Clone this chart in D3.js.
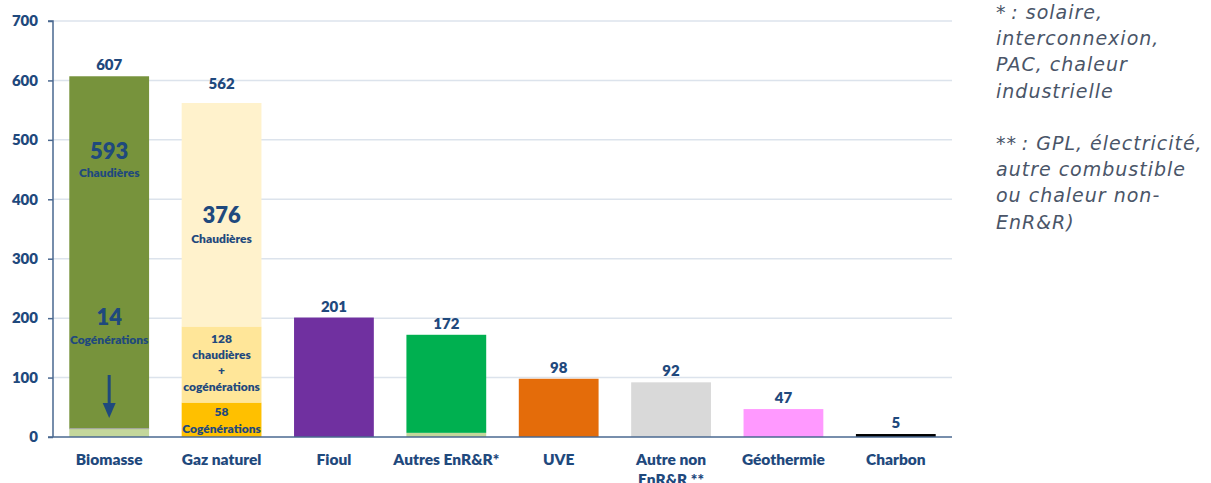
<!DOCTYPE html>
<html><head><meta charset="utf-8">
<script src="https://cdn.jsdelivr.net/npm/d3@7/dist/d3.min.js"></script>
<style>
body{margin:0;background:#fff;}
svg{display:block;}
</style></head>
<body><svg id="chart" width="1211" height="483"></svg>
<script>
const categories = ["Biomasse","Gaz naturel","Fioul","Autres EnR&R*","UVE","Autre non EnR&R **","Géothermie","Charbon"];
const totals = [607,562,201,172,98,92,47,5];
// stacked segments (bottom to top) per category
const biomasseSegments = [14,593];
const gazSegments = [58,128,376];
const autresSegments = [7,165];
const yTicks = [0,100,200,300,400,500,600,700];
const footnotes = ["*\u2009: solaire,","interconnexion,","PAC, chaleur","industrielle","","**\u2009: GPL, électricité,","autre combustible","ou chaleur non-","EnR&R)"];

const segColors = {
  "Biomasse":["#C4D79B","#77933C"],
  "Gaz naturel":["#FFC000","#FFE699","#FFF2CC"],
  "Autres EnR&R*":["#C4D79B","#00B050"]
};
const singleColors = {"Fioul":"#7030A0","UVE":"#E46C0A","Autre non EnR&R **":"#D9D9D9","Géothermie":"#FF99FF","Charbon":"#000000"};
const segValues = {"Biomasse":biomasseSegments,"Gaz naturel":gazSegments,"Autres EnR&R*":autresSegments};

const svg = d3.select("#chart");
const mLeft=53,mRight=952,mTop=21,mBottom=437;
const x = d3.scaleBand().domain(categories).range([mLeft,mRight]).paddingInner(0.29).paddingOuter(0.145);
const y = d3.scaleLinear().domain([0,700]).range([mBottom,mTop]);
const txt="#1F497D", font="Lato, 'Open Sans', sans-serif", fw=800;

// gridlines
svg.append("g").selectAll("line").data(yTicks.filter(d=>d>0)).join("line")
  .attr("x1",mLeft).attr("x2",mRight).attr("y1",d=>y(d)).attr("y2",d=>y(d))
  .attr("stroke","#DCE3EC").attr("stroke-width",1.5);

// bars
categories.forEach((c,i)=>{
  const segs = segValues[c] || [totals[i]];
  const cols = segColors[c] || [singleColors[c]];
  let acc=0;
  segs.forEach((v,j)=>{
    svg.append("rect").attr("x",x(c)).attr("width",x.bandwidth())
      .attr("y",y(acc+v)).attr("height",y(acc)-y(acc+v)).attr("fill",cols[j]);
    acc+=v;
  });
});
// thin separator in biomasse
svg.append("line").attr("x1",x("Biomasse")).attr("x2",x("Biomasse")+x.bandwidth())
  .attr("y1",y(biomasseSegments[0])).attr("y2",y(biomasseSegments[0])).attr("stroke","#A6A6A6").attr("stroke-width",1);

// axes
const ya = d3.axisLeft(y).tickValues(yTicks).tickSize(5).tickFormat(d3.format("d"));
const gy = svg.append("g").attr("transform",`translate(${mLeft},0)`).call(ya);
gy.select(".domain").attr("stroke","#4A6890").attr("stroke-width",1.5).attr("d",`M-5,${mTop}H0V${mBottom}`);
gy.selectAll(".tick line").attr("stroke","#4A6890").attr("stroke-width",1.5);
gy.selectAll("text").attr("x",-15).attr("fill",txt).attr("font-family",font).attr("font-weight",fw).attr("font-size",15);
svg.append("line").attr("x1",mLeft-5).attr("x2",mRight).attr("y1",mBottom).attr("y2",mBottom).attr("stroke","#4A6890").attr("stroke-width",1.5);

// x labels
categories.forEach(c=>{
  const cx = x(c)+x.bandwidth()/2;
  const lines = c==="Autre non EnR&R **" ? ["Autre non","EnR&R **"] : [c];
  lines.forEach((l,k)=>svg.append("text").attr("x",cx).attr("y",465+k*20).attr("text-anchor","middle")
    .attr("fill",txt).attr("font-family",font).attr("font-weight",fw).attr("font-size",15.5).text(l));
});

// total labels
categories.forEach((c,i)=>{
  svg.append("text").attr("x",x(c)+x.bandwidth()/2).attr("y",y(totals[i])-(i===1?14:6)).attr("text-anchor","middle")
    .attr("fill",txt).attr("font-family",font).attr("font-weight",fw).attr("font-size",15).text(totals[i]);
});

// inner labels
function lab(c,yy,t,size){
  svg.append("text").attr("x",x(c)+x.bandwidth()/2).attr("y",yy).attr("text-anchor","middle")
    .attr("fill",txt).attr("font-family",font).attr("font-weight",fw).attr("font-size",size).text(t);
}
lab("Biomasse",159,biomasseSegments[1],22);
lab("Biomasse",177,"Chaudières",12);
lab("Biomasse",325,biomasseSegments[0],22);
lab("Biomasse",344,"Cogénérations",12);
lab("Gaz naturel",223,gazSegments[2],22);
lab("Gaz naturel",243,"Chaudières",12);
lab("Gaz naturel",343,gazSegments[1],12);
lab("Gaz naturel",359,"chaudières",12);
lab("Gaz naturel",375,"+",12);
lab("Gaz naturel",391,"cogénérations",12);
lab("Gaz naturel",416,gazSegments[0],12);
lab("Gaz naturel",433,"Cogénérations",12);

// arrow
const ax = x("Biomasse")+x.bandwidth()/2;
svg.append("line").attr("x1",ax).attr("x2",ax).attr("y1",375).attr("y2",406).attr("stroke","#1F497D").attr("stroke-width",3);
svg.append("path").attr("d",`M${ax-6.5},403L${ax+6.5},403L${ax},418Z`).attr("fill","#1F497D");

// footnotes
footnotes.forEach((t,k)=>{
  if(!t) return;
  svg.append("text").attr("x",996).attr("y",19+k*26.2).attr("fill","#4A5568")
    .attr("font-family","'DejaVu Sans', sans-serif").attr("font-style","oblique").attr("font-size",19)
    .attr("letter-spacing",1.0).text(t);
});
</script></body></html>
